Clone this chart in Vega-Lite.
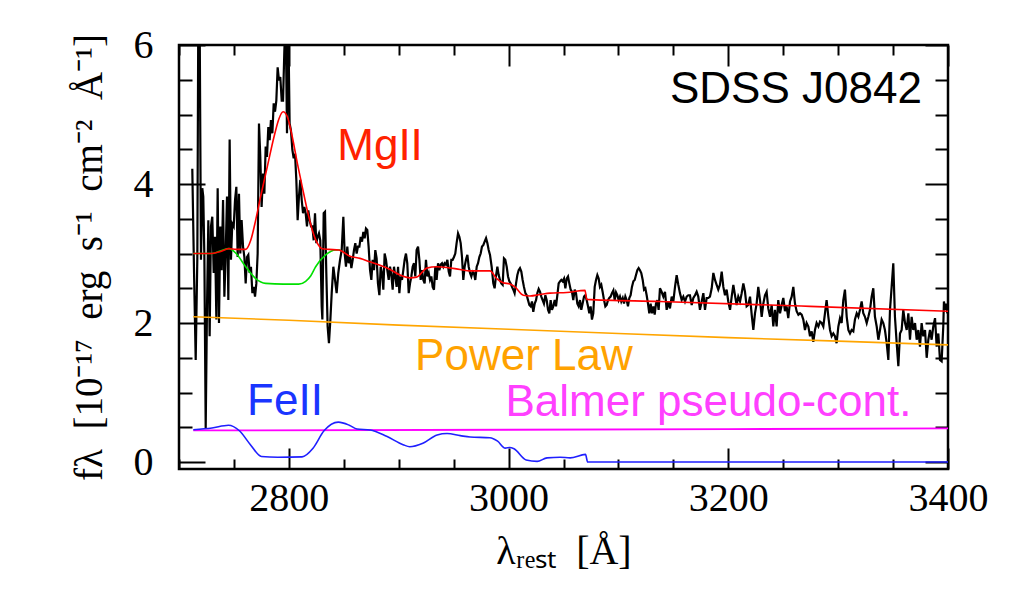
{
  "$schema": "https://vega.github.io/schema/vega-lite/v6.json",
  "width": 769,
  "height": 424,
  "autosize": "none",
  "padding": {"left": 179, "top": 45, "right": 82, "bottom": 139},
  "background": "white",
  "config": {
    "view": {"stroke": "black", "strokeWidth": 2.5},
    "axis": {"domain": false, "grid": false}
  },
  "datasets": {
    "spec": [
      {"l":2712.1,"f":4.22},{"l":2713.7,"f":2.72},{"l":2715.2,"f":1.47},{"l":2716.7,"f":2.95},{"l":2717.6,"f":6.6},{"l":2718.8,"f":6.4},{"l":2720.0,"f":2.91},{"l":2721.2,"f":3.94},{"l":2722.1,"f":3.82},{"l":2723.1,"f":2.95},{"l":2724.3,"f":0.49},{"l":2725.5,"f":2.24},{"l":2726.7,"f":3.48},{"l":2727.9,"f":1.81},{"l":2729.1,"f":3.39},{"l":2730.3,"f":3.53},{"l":2731.6,"f":2.72},{"l":2732.8,"f":3.24},{"l":2734.0,"f":2.05},{"l":2735.2,"f":3.94},{"l":2736.4,"f":2.00},{"l":2737.6,"f":3.39},{"l":2738.8,"f":2.76},{"l":2740.1,"f":3.77},{"l":2741.3,"f":2.38},{"l":2742.5,"f":3.00},{"l":2743.7,"f":3.82},{"l":2744.9,"f":2.33},{"l":2746.1,"f":4.64},{"l":2747.3,"f":2.91},{"l":2748.5,"f":3.43},{"l":2749.8,"f":3.39},{"l":2751.0,"f":3.77},{"l":2752.2,"f":3.96},{"l":2753.4,"f":2.95},{"l":2754.6,"f":3.86},{"l":2755.8,"f":3.00},{"l":2757.0,"f":3.48},{"l":2758.3,"f":3.10},{"l":2759.5,"f":2.95},{"l":2760.7,"f":2.57},{"l":2761.9,"f":2.95},{"l":2763.1,"f":2.98},{"l":2764.3,"f":2.72},{"l":2765.5,"f":2.81},{"l":2766.8,"f":2.43},{"l":2768.0,"f":2.52},{"l":2769.2,"f":2.38},{"l":2770.4,"f":2.57},{"l":2771.6,"f":3.00},{"l":2772.8,"f":4.87},{"l":2774.0,"f":4.39},{"l":2775.2,"f":3.67},{"l":2776.5,"f":4.15},{"l":2777.7,"f":3.86},{"l":2778.9,"f":4.54},{"l":2780.1,"f":4.39},{"l":2781.3,"f":4.82},{"l":2782.5,"f":4.63},{"l":2783.7,"f":4.92},{"l":2785.0,"f":4.73},{"l":2786.2,"f":5.16},{"l":2787.4,"f":5.04},{"l":2788.6,"f":5.20},{"l":2789.8,"f":5.68},{"l":2791.0,"f":5.49},{"l":2792.2,"f":5.54},{"l":2793.5,"f":5.20},{"l":2794.7,"f":5.20},{"l":2795.9,"f":5.92},{"l":2797.1,"f":6.4},{"l":2798.3,"f":4.73},{"l":2799.5,"f":6.3},{"l":2800.7,"f":4.87},{"l":2801.9,"f":4.77},{"l":2803.2,"f":4.49},{"l":2804.4,"f":4.37},{"l":2805.6,"f":4.44},{"l":2806.8,"f":4.06},{"l":2808.0,"f":3.48},{"l":2809.2,"f":3.82},{"l":2810.4,"f":4.06},{"l":2811.7,"f":3.77},{"l":2812.9,"f":3.58},{"l":2814.1,"f":3.67},{"l":2815.3,"f":3.58},{"l":2816.5,"f":3.39},{"l":2817.7,"f":3.62},{"l":2818.9,"f":3.48},{"l":2820.2,"f":3.39},{"l":2821.4,"f":3.39},{"l":2822.6,"f":3.19},{"l":2823.8,"f":3.58},{"l":2825.0,"f":3.15},{"l":2826.2,"f":3.24},{"l":2827.4,"f":3.29},{"l":2828.6,"f":3.19},{"l":2829.9,"f":2.24},{"l":2830.5,"f":2.05},{"l":2831.7,"f":3.58},{"l":2832.9,"f":3.60},{"l":2834.1,"f":2.72},{"l":2835.3,"f":1.95},{"l":2836.5,"f":1.71},{"l":2837.8,"f":2.05},
      {"l":2839.0,"f":2.43},{"l":2840.5,"f":2.81},{"l":2842.0,"f":2.62},{"l":2843.5,"f":2.43},{"l":2845.0,"f":2.72},{"l":2846.6,"f":2.91},{"l":2848.1,"f":3.05},{"l":2849.6,"f":3.53},{"l":2850.8,"f":3.00},{"l":2852.0,"f":2.81},{"l":2853.2,"f":3.10},{"l":2854.4,"f":2.86},{"l":2855.7,"f":2.95},{"l":2856.9,"f":2.79},{"l":2858.1,"f":2.91},{"l":2859.3,"f":3.05},{"l":2860.5,"f":3.15},{"l":2861.7,"f":3.00},{"l":2862.9,"f":3.10},{"l":2864.2,"f":3.10},{"l":2865.4,"f":3.24},{"l":2866.6,"f":3.17},{"l":2867.8,"f":3.31},{"l":2869.0,"f":3.22},{"l":2870.2,"f":3.36},{"l":2871.4,"f":3.34},{"l":2872.6,"f":3.10},{"l":2873.9,"f":2.76},{"l":2875.1,"f":2.62},{"l":2876.3,"f":2.91},{"l":2877.5,"f":2.76},{"l":2878.7,"f":3.05},{"l":2879.9,"f":2.93},{"l":2881.1,"f":2.57},{"l":2882.4,"f":2.40},{"l":2883.6,"f":2.81},{"l":2884.8,"f":2.72},{"l":2886.0,"f":2.48},{"l":2887.2,"f":3.00},{"l":2888.4,"f":2.91},{"l":2889.6,"f":2.76},{"l":2890.9,"f":2.62},{"l":2892.1,"f":2.81},{"l":2893.3,"f":2.69},{"l":2894.5,"f":2.48},{"l":2895.7,"f":2.81},{"l":2896.9,"f":2.67},{"l":2898.1,"f":2.52},{"l":2899.4,"f":2.81},{"l":2900.6,"f":2.43},{"l":2901.8,"f":2.67},{"l":2903.0,"f":2.62},{"l":2904.2,"f":2.76},{"l":2905.4,"f":2.91},{"l":2906.6,"f":3.00},{"l":2907.8,"f":2.86},{"l":2909.1,"f":2.43},{"l":2910.3,"f":2.57},{"l":2911.5,"f":2.67},{"l":2912.7,"f":2.81},{"l":2913.9,"f":2.86},{"l":2915.1,"f":2.67},{"l":2916.3,"f":3.05},{"l":2917.6,"f":3.10},{"l":2918.8,"f":2.91},{"l":2920.0,"f":2.62},{"l":2921.2,"f":2.76},{"l":2922.4,"f":2.62},{"l":2923.6,"f":2.57},{"l":2924.8,"f":2.91},{"l":2926.1,"f":2.67},{"l":2927.3,"f":2.72},{"l":2928.5,"f":2.62},{"l":2929.7,"f":2.67},{"l":2930.9,"f":2.52},{"l":2932.1,"f":2.48},{"l":2933.3,"f":2.81},{"l":2934.5,"f":2.62},{"l":2935.8,"f":2.86},{"l":2937.0,"f":2.76},{"l":2938.2,"f":2.84},{"l":2939.4,"f":2.86},{"l":2940.6,"f":2.81},{"l":2941.8,"f":2.86},{"l":2943.0,"f":2.84},{"l":2944.3,"f":2.91},{"l":2945.5,"f":2.74},{"l":2946.7,"f":2.67},{"l":2947.9,"f":2.91},{"l":2949.1,"f":2.91},{"l":2950.3,"f":2.95},{"l":2951.5,"f":3.00},{"l":2952.7,"f":3.15},{"l":2954.0,"f":3.29},{"l":2955.2,"f":3.24},{"l":2956.4,"f":3.15},{"l":2957.6,"f":2.95},{"l":2958.8,"f":2.62},{"l":2960.0,"f":2.81},{"l":2961.2,"f":2.91},{"l":2962.5,"f":2.98},{"l":2963.7,"f":2.81},{"l":2964.9,"f":2.72},{"l":2966.1,"f":2.67},{"l":2967.3,"f":2.74},{"l":2968.5,"f":2.72},{"l":2969.7,"f":2.62},{"l":2971.0,"f":2.81},{"l":2972.2,"f":2.86},{"l":2973.4,"f":2.95},{"l":2974.6,"f":3.00},{"l":2975.8,"f":3.10},{"l":2977.0,"f":3.12},{"l":2978.2,"f":3.17},{"l":2979.5,"f":3.22},{"l":2980.7,"f":3.15},{"l":2981.9,"f":3.05},{"l":2983.1,"f":2.98},
      {"l":2984.6,"f":2.81},{"l":2986.1,"f":2.57},{"l":2987.3,"f":2.50},{"l":2988.5,"f":2.67},{"l":2989.8,"f":2.81},{"l":2991.0,"f":2.69},{"l":2992.2,"f":2.62},{"l":2993.4,"f":2.57},{"l":2994.6,"f":2.55},{"l":2995.8,"f":2.93},{"l":2997.0,"f":2.91},{"l":2998.3,"f":2.81},{"l":2999.5,"f":2.67},{"l":3000.7,"f":2.60},{"l":3001.9,"f":2.57},{"l":3003.1,"f":2.52},{"l":3004.3,"f":2.48},{"l":3005.5,"f":2.43},{"l":3006.8,"f":2.57},{"l":3008.0,"f":2.69},{"l":3009.2,"f":2.76},{"l":3010.4,"f":2.79},{"l":3011.6,"f":2.74},{"l":3012.8,"f":2.62},{"l":3014.0,"f":2.52},{"l":3015.3,"f":2.43},{"l":3016.5,"f":2.40},{"l":3017.7,"f":2.33},{"l":3018.9,"f":2.26},{"l":3020.1,"f":2.24},{"l":3021.3,"f":2.31},{"l":3022.5,"f":2.16},{"l":3023.8,"f":2.28},{"l":3025.0,"f":2.33},{"l":3026.2,"f":2.43},{"l":3027.4,"f":2.49},{"l":3028.6,"f":2.45},{"l":3029.8,"f":2.38},{"l":3031.0,"f":2.33},{"l":3032.2,"f":2.28},{"l":3033.5,"f":2.40},{"l":3034.7,"f":2.33},{"l":3035.9,"f":2.19},{"l":3037.1,"f":2.14},{"l":3038.3,"f":2.33},{"l":3039.5,"f":2.19},{"l":3040.7,"f":2.24},{"l":3042.0,"f":2.33},{"l":3043.2,"f":2.24},{"l":3044.4,"f":2.40},{"l":3045.6,"f":2.57},{"l":3046.8,"f":2.60},{"l":3048.0,"f":2.62},{"l":3049.2,"f":2.60},{"l":3050.5,"f":2.64},{"l":3051.7,"f":2.50},{"l":3052.9,"f":2.64},{"l":3054.1,"f":2.67},{"l":3055.3,"f":2.57},{"l":3056.5,"f":2.48},{"l":3057.7,"f":2.45},{"l":3058.9,"f":2.33},{"l":3060.2,"f":2.48},{"l":3061.4,"f":2.43},{"l":3062.6,"f":2.28},{"l":3063.8,"f":2.24},{"l":3065.0,"f":2.33},{"l":3066.2,"f":2.19},{"l":3067.4,"f":2.28},{"l":3068.7,"f":2.38},{"l":3069.9,"f":2.40},{"l":3071.1,"f":2.33},{"l":3072.3,"f":2.24},{"l":3073.5,"f":2.14},{"l":3074.7,"f":2.24},{"l":3075.9,"f":2.05},{"l":3077.1,"f":2.14},{"l":3078.4,"f":2.52},{"l":3079.6,"f":2.62},{"l":3080.8,"f":2.69},{"l":3082.0,"f":2.64},{"l":3083.2,"f":2.52},{"l":3084.4,"f":2.55},{"l":3085.6,"f":2.45},{"l":3086.9,"f":2.33},{"l":3088.1,"f":2.24},{"l":3089.3,"f":2.26},{"l":3090.5,"f":2.33},{"l":3091.7,"f":2.36},{"l":3092.9,"f":2.38},{"l":3094.1,"f":2.43},{"l":3095.4,"f":2.47},{"l":3096.6,"f":2.33},{"l":3097.8,"f":2.44},{"l":3099.0,"f":2.40},{"l":3100.2,"f":2.33},{"l":3101.4,"f":2.38},{"l":3102.6,"f":2.31},{"l":3103.9,"f":2.36},{"l":3105.1,"f":2.28},{"l":3106.3,"f":2.38},{"l":3107.5,"f":2.33},{"l":3108.7,"f":2.24},{"l":3109.9,"f":2.36},{"l":3111.1,"f":2.40},{"l":3112.3,"f":2.52},{"l":3113.6,"f":2.60},{"l":3114.8,"f":2.62},{"l":3116.0,"f":2.69},{"l":3117.2,"f":2.76},{"l":3118.4,"f":2.79},{"l":3119.6,"f":2.76},{"l":3120.8,"f":2.72},{"l":3122.1,"f":2.62},{"l":3123.3,"f":2.48},{"l":3124.5,"f":2.50},{"l":3125.7,"f":2.40},{"l":3126.9,"f":2.28},{"l":3128.1,"f":2.14},{"l":3129.3,"f":2.28},{"l":3130.5,"f":2.14},{"l":3131.8,"f":2.24},{"l":3133.0,"f":2.12},{"l":3134.2,"f":2.28},{"l":3135.4,"f":2.33},{"l":3136.6,"f":2.19},
      {"l":3137.8,"f":2.50},{"l":3139.3,"f":2.45},{"l":3140.9,"f":2.38},{"l":3142.4,"f":2.45},{"l":3143.9,"f":2.19},{"l":3145.4,"f":2.31},{"l":3146.9,"f":2.21},{"l":3148.5,"f":2.38},{"l":3150.0,"f":2.31},{"l":3151.5,"f":2.52},{"l":3153.0,"f":2.69},{"l":3154.5,"f":2.55},{"l":3156.0,"f":2.43},{"l":3157.6,"f":2.33},{"l":3159.1,"f":2.38},{"l":3160.6,"f":2.31},{"l":3162.1,"f":2.38},{"l":3163.6,"f":2.40},{"l":3165.1,"f":2.40},{"l":3166.7,"f":2.26},{"l":3168.2,"f":2.36},{"l":3169.7,"f":2.40},{"l":3171.2,"f":2.45},{"l":3172.7,"f":2.38},{"l":3174.2,"f":2.19},{"l":3175.8,"f":2.31},{"l":3177.3,"f":2.43},{"l":3178.8,"f":2.19},{"l":3180.3,"f":2.36},{"l":3181.8,"f":2.36},{"l":3183.3,"f":2.38},{"l":3184.9,"f":2.50},{"l":3186.4,"f":2.72},{"l":3187.9,"f":2.62},{"l":3189.4,"f":2.55},{"l":3190.9,"f":2.48},{"l":3192.4,"f":2.55},{"l":3194.0,"f":2.74},{"l":3195.5,"f":2.52},{"l":3197.0,"f":2.40},{"l":3198.5,"f":2.48},{"l":3200.0,"f":2.31},{"l":3201.6,"f":2.19},{"l":3203.1,"f":2.38},{"l":3204.6,"f":2.55},{"l":3206.1,"f":2.40},{"l":3207.6,"f":2.26},{"l":3209.1,"f":2.38},{"l":3210.7,"f":2.31},{"l":3212.2,"f":2.43},{"l":3213.7,"f":2.57},{"l":3215.2,"f":2.45},{"l":3216.7,"f":2.24},{"l":3218.2,"f":2.26},{"l":3219.8,"f":2.38},{"l":3221.3,"f":2.12},{"l":3222.8,"f":1.90},{"l":3224.3,"f":2.14},{"l":3225.8,"f":2.28},{"l":3227.3,"f":2.52},{"l":3228.9,"f":2.33},{"l":3230.4,"f":2.09},{"l":3231.9,"f":2.28},{"l":3233.4,"f":2.40},{"l":3234.9,"f":2.45},{"l":3236.4,"f":2.21},{"l":3238.0,"f":2.09},{"l":3239.5,"f":2.26},{"l":3241.0,"f":1.95},{"l":3242.5,"f":2.19},{"l":3244.0,"f":1.95},{"l":3245.5,"f":2.33},{"l":3247.1,"f":2.14},{"l":3248.6,"f":2.26},{"l":3250.1,"f":2.36},{"l":3251.6,"f":2.17},{"l":3253.1,"f":2.24},{"l":3254.6,"f":2.07},{"l":3256.2,"f":2.31},{"l":3257.7,"f":2.38},{"l":3259.2,"f":2.52},{"l":3260.7,"f":2.28},{"l":3262.2,"f":2.17},{"l":3263.8,"f":2.12},
      {"l":3265.3,"f":2.14},{"l":3266.8,"f":2.12},{"l":3268.3,"f":2.05},{"l":3269.8,"f":1.90},{"l":3271.3,"f":2.00},{"l":3272.9,"f":1.95},{"l":3274.4,"f":1.81},{"l":3275.9,"f":1.88},{"l":3277.4,"f":1.73},{"l":3278.9,"f":1.90},{"l":3280.4,"f":2.00},{"l":3282.0,"f":1.95},{"l":3283.5,"f":2.02},{"l":3285.0,"f":2.00},{"l":3286.5,"f":1.95},{"l":3288.0,"f":2.14},{"l":3289.5,"f":2.33},{"l":3291.1,"f":2.09},{"l":3292.6,"f":1.90},{"l":3294.1,"f":1.81},{"l":3295.6,"f":1.85},{"l":3297.1,"f":1.81},{"l":3298.6,"f":1.71},{"l":3300.2,"f":1.95},{"l":3301.7,"f":2.07},{"l":3303.2,"f":2.00},{"l":3304.7,"f":2.33},{"l":3306.2,"f":2.48},{"l":3307.8,"f":2.09},{"l":3309.3,"f":1.90},{"l":3310.8,"f":1.85},{"l":3312.3,"f":1.90},{"l":3313.8,"f":1.88},{"l":3315.3,"f":2.05},{"l":3316.9,"f":2.14},{"l":3318.4,"f":2.09},{"l":3319.9,"f":2.19},{"l":3321.4,"f":2.31},{"l":3322.9,"f":2.14},{"l":3324.4,"f":2.09},{"l":3326.0,"f":2.00},{"l":3327.5,"f":2.09},{"l":3329.0,"f":2.19},{"l":3330.5,"f":2.38},{"l":3332.0,"f":2.50},{"l":3333.5,"f":2.09},{"l":3335.1,"f":1.95},{"l":3336.6,"f":1.76},{"l":3338.1,"f":1.90},{"l":3339.6,"f":2.05},{"l":3341.1,"f":2.00},{"l":3342.6,"f":1.90},{"l":3344.2,"f":1.71},{"l":3345.7,"f":1.47},{"l":3347.2,"f":2.19},{"l":3348.7,"f":2.52},{"l":3350.2,"f":2.86},{"l":3351.7,"f":2.09},{"l":3353.3,"f":1.71},{"l":3354.8,"f":1.38},{"l":3356.3,"f":1.85},{"l":3357.8,"f":1.90},{"l":3359.3,"f":2.19},{"l":3360.9,"f":2.00},{"l":3362.4,"f":1.90},{"l":3363.9,"f":2.14},{"l":3365.4,"f":1.76},{"l":3366.9,"f":2.09},{"l":3368.4,"f":1.90},{"l":3370.0,"f":2.00},{"l":3371.5,"f":1.76},{"l":3373.0,"f":1.90},{"l":3374.5,"f":1.66},{"l":3376.0,"f":2.00},{"l":3377.5,"f":1.81},{"l":3379.1,"f":1.90},{"l":3380.6,"f":1.50},{"l":3382.1,"f":1.76},{"l":3383.6,"f":1.90},{"l":3385.1,"f":1.76},{"l":3386.6,"f":1.95},{"l":3388.2,"f":2.07},{"l":3389.7,"f":1.66},{"l":3391.2,"f":1.85},{"l":3392.7,"f":1.47},{"l":3394.2,"f":1.45},{"l":3395.7,"f":1.95},{"l":3396.3,"f":2.31},{"l":3397.3,"f":2.19},{"l":3398.2,"f":2.28},{"l":3399.4,"f":2.14}
    ],
    "total": [
      {"l":2713,"f":3.00},{"l":2730,"f":3.00},{"l":2738,"f":3.03},{"l":2745.5,"f":3.07},{"l":2752,"f":3.06},{"l":2760.7,"f":3.06},{"l":2765.3,"f":3.19},{"l":2769.8,"f":3.48},{"l":2774.3,"f":3.82},{"l":2780.4,"f":4.25},{"l":2786.5,"f":4.68},{"l":2791,"f":4.94},{"l":2794.7,"f":5.04},{"l":2798.6,"f":4.97},{"l":2803.1,"f":4.68},{"l":2807.7,"f":4.30},{"l":2812.2,"f":3.96},{"l":2816.8,"f":3.62},{"l":2821.3,"f":3.34},{"l":2825.9,"f":3.15},{"l":2830.4,"f":3.07},{"l":2836.5,"f":3.06},{"l":2845.6,"f":3.05},{"l":2855.7,"f":2.96},{"l":2864.8,"f":2.93},{"l":2873.9,"f":2.88},{"l":2883,"f":2.83},{"l":2892.1,"f":2.77},{"l":2901.2,"f":2.69},{"l":2910.3,"f":2.65},{"l":2916.4,"f":2.66},{"l":2925.5,"f":2.79},{"l":2934.6,"f":2.81},{"l":2943.7,"f":2.80},{"l":2955.8,"f":2.77},{"l":2964.9,"f":2.75},{"l":2983.1,"f":2.75},{"l":2989.2,"f":2.64},{"l":2995,"f":2.58},{"l":3001.3,"f":2.56},{"l":3005.8,"f":2.52},{"l":3013.4,"f":2.40},{"l":3019.5,"f":2.39},{"l":3028.6,"f":2.41},{"l":3037.7,"f":2.43},{"l":3052.9,"f":2.44},{"l":3069.6,"f":2.47},{"l":3071.1,"f":2.34},{"l":3137.8,"f":2.31},{"l":3274.4,"f":2.24},{"l":3400,"f":2.17}
    ],
    "nomg": [
      {"l":2713,"f":3.00},{"l":2730,"f":3.00},{"l":2738,"f":3.04},{"l":2745.5,"f":3.07},{"l":2752,"f":3.00},{"l":2760.7,"f":2.81},{"l":2769.8,"f":2.64},{"l":2778.9,"f":2.57},{"l":2795,"f":2.56},{"l":2809,"f":2.56},{"l":2815.3,"f":2.60},{"l":2820,"f":2.68},{"l":2824.4,"f":2.81},{"l":2833.5,"f":2.98},{"l":2842.6,"f":3.05},{"l":2847,"f":3.05}
    ],
    "pl": [
      {"l":2713,"f":2.09},{"l":2800,"f":2.04},{"l":2900,"f":1.97},{"l":3000,"f":1.91},{"l":3100,"f":1.85},{"l":3200,"f":1.79},{"l":3300,"f":1.74},{"l":3400,"f":1.686}
    ],
    "balmer": [
      {"l":2713,"f":0.455},{"l":3000,"f":0.465},{"l":3200,"f":0.474},{"l":3400,"f":0.484}
    ],
    "feii": [
      {"l":2713,"f":0.465},{"l":2730,"f":0.49},{"l":2745,"f":0.53},{"l":2755,"f":0.45},{"l":2765,"f":0.25},{"l":2775,"f":0.08},{"l":2790,"f":0.07},{"l":2812,"f":0.075},{"l":2822,"f":0.2},{"l":2832,"f":0.45},{"l":2845,"f":0.575},{"l":2855,"f":0.53},{"l":2862,"f":0.475},{"l":2874,"f":0.46},{"l":2889,"f":0.37},{"l":2904,"f":0.25},{"l":2910,"f":0.22},{"l":2922,"f":0.27},{"l":2935,"f":0.39},{"l":2944,"f":0.41},{"l":2956,"f":0.38},{"l":2965,"f":0.36},{"l":2983,"f":0.35},{"l":2990,"f":0.30},{"l":2997,"f":0.2},{"l":3001,"f":0.21},{"l":3005,"f":0.19},{"l":3016,"f":0.03},{"l":3026,"f":0.01},{"l":3035,"f":0.06},{"l":3047,"f":0.07},{"l":3056,"f":0.06},{"l":3070,"f":0.11},{"l":3072,"f":0.0},{"l":3400,"f":0.0}
    ],
    "ann": [
      {"l":3261.6,"f":5.16,"t":"SDSS J0842","c":"black"},
      {"l":2883.0,"f":4.34,"t":"MgII","c":"#ff2200"},
      {"l":3014.0,"f":1.33,"t":"Power Law","c":"#ffa200"},
      {"l":2796.5,"f":0.68,"t":"FeII","c":"#1a35ff"},
      {"l":3182.0,"f":0.656,"t":"Balmer pseudo-cont.","c":"#ff40ff"}
    ]
  },
  "layer": [
    {
      "data": {"name": "spec"},
      "mark": {"type": "line", "color": "black", "strokeWidth": 2.2, "clip": true},
      "encoding": {
        "x": {"field": "l", "type": "quantitative",
          "scale": {"domain": [2700, 3400], "nice": false, "zero": false},
          "axis": {
            "orient": "bottom",
            "values": [2700,2750,2800,2850,2900,2950,3000,3050,3100,3150,3200,3250,3300,3350,3400],
            "labelExpr": "datum.value % 200 === 0 && datum.value >= 2800 ? format(datum.value, 'd') : ''",
            "tickSize": {"condition": {"test": "datum.value % 200 === 0", "value": -21}, "value": -10},
            "tickWidth": 2, "tickColor": "black",
            "labelFont": "Liberation Serif", "labelFontSize": 40, "labelColor": "black",
            "labelPadding": 30, "labelFlush": false, "labelOverlap": false, "labelBound": false,
            "title": "λᵣₑₛₜ\u2002[Å]", "titleFont": "Liberation Serif", "titleFontSize": 40, "titleFontWeight": "normal", "titleColor": "black", "titlePadding": 2
          }
        },
        "y": {"field": "f", "type": "quantitative",
          "scale": {"domain": [-0.1, 6], "nice": false, "zero": false},
          "axis": {
            "orient": "left",
            "values": [0,0.5,1,1.5,2,2.5,3,3.5,4,4.5,5,5.5,6],
            "labelExpr": "datum.value % 2 === 0 ? format(datum.value, 'd') : ''",
            "tickSize": {"condition": {"test": "datum.value % 2 === 0", "value": -26}, "value": -13},
            "tickWidth": 2, "tickColor": "black",
            "labelFont": "Liberation Serif", "labelFontSize": 40, "labelColor": "black",
            "labelPadding": 52, "labelFlush": false, "labelOverlap": false, "labelBound": false,
            "title": "fλ\u2002[10⁻¹⁷\u2002erg\u2002s⁻¹\u2002cm⁻²\u2002Å⁻¹]", "titleFont": "Liberation Serif", "titleFontSize": 39, "titleFontWeight": "normal", "titleColor": "black", "titlePadding": 24
          }
        }
      }
    },
    {
      "data": {"name": "pl"},
      "mark": {"type": "line", "color": "#ffa500", "strokeWidth": 1.6, "clip": true},
      "encoding": {
        "x": {"field": "l", "type": "quantitative",
          "axis": {
            "orient": "top",
            "values": [2700,2750,2800,2850,2900,2950,3000,3050,3100,3150,3200,3250,3300,3350,3400],
            "labels": false,
            "tickSize": {"condition": {"test": "datum.value % 200 === 0", "value": -21}, "value": -10},
            "tickWidth": 2, "tickColor": "black", "title": null
          }
        },
        "y": {"field": "f", "type": "quantitative",
          "axis": {
            "orient": "right",
            "values": [0,0.5,1,1.5,2,2.5,3,3.5,4,4.5,5,5.5,6],
            "labels": false,
            "tickSize": {"condition": {"test": "datum.value % 2 === 0", "value": -23}, "value": -13},
            "tickWidth": 2, "tickColor": "black", "title": null
          }
        }
      }
    },
    {
      "data": {"name": "balmer"},
      "mark": {"type": "line", "color": "#ff00ff", "strokeWidth": 1.8, "clip": true},
      "encoding": {
        "x": {"field": "l", "type": "quantitative", "axis": null},
        "y": {"field": "f", "type": "quantitative", "axis": null}
      }
    },
    {
      "data": {"name": "feii"},
      "mark": {"type": "line", "color": "#1f1fff", "strokeWidth": 1.6, "interpolate": "monotone", "clip": true},
      "encoding": {
        "x": {"field": "l", "type": "quantitative", "axis": null},
        "y": {"field": "f", "type": "quantitative", "axis": null}
      }
    },
    {
      "data": {"name": "nomg"},
      "mark": {"type": "line", "color": "#00e000", "strokeWidth": 1.6, "interpolate": "monotone", "clip": true},
      "encoding": {
        "x": {"field": "l", "type": "quantitative", "axis": null},
        "y": {"field": "f", "type": "quantitative", "axis": null}
      }
    },
    {
      "data": {"name": "total"},
      "mark": {"type": "line", "color": "#ff0000", "strokeWidth": 1.6, "interpolate": "monotone", "clip": true},
      "encoding": {
        "x": {"field": "l", "type": "quantitative", "axis": null},
        "y": {"field": "f", "type": "quantitative", "axis": null}
      }
    },
    {
      "data": {"name": "ann"},
      "mark": {"type": "text", "font": "Liberation Sans", "fontSize": 44, "align": "center", "baseline": "alphabetic"},
      "encoding": {
        "x": {"field": "l", "type": "quantitative", "axis": null},
        "y": {"field": "f", "type": "quantitative", "axis": null},
        "text": {"field": "t"},
        "color": {"field": "c", "type": "nominal", "scale": null}
      }
    }
  ],
  "resolve": {"axis": {"x": "independent", "y": "independent"}}
}
